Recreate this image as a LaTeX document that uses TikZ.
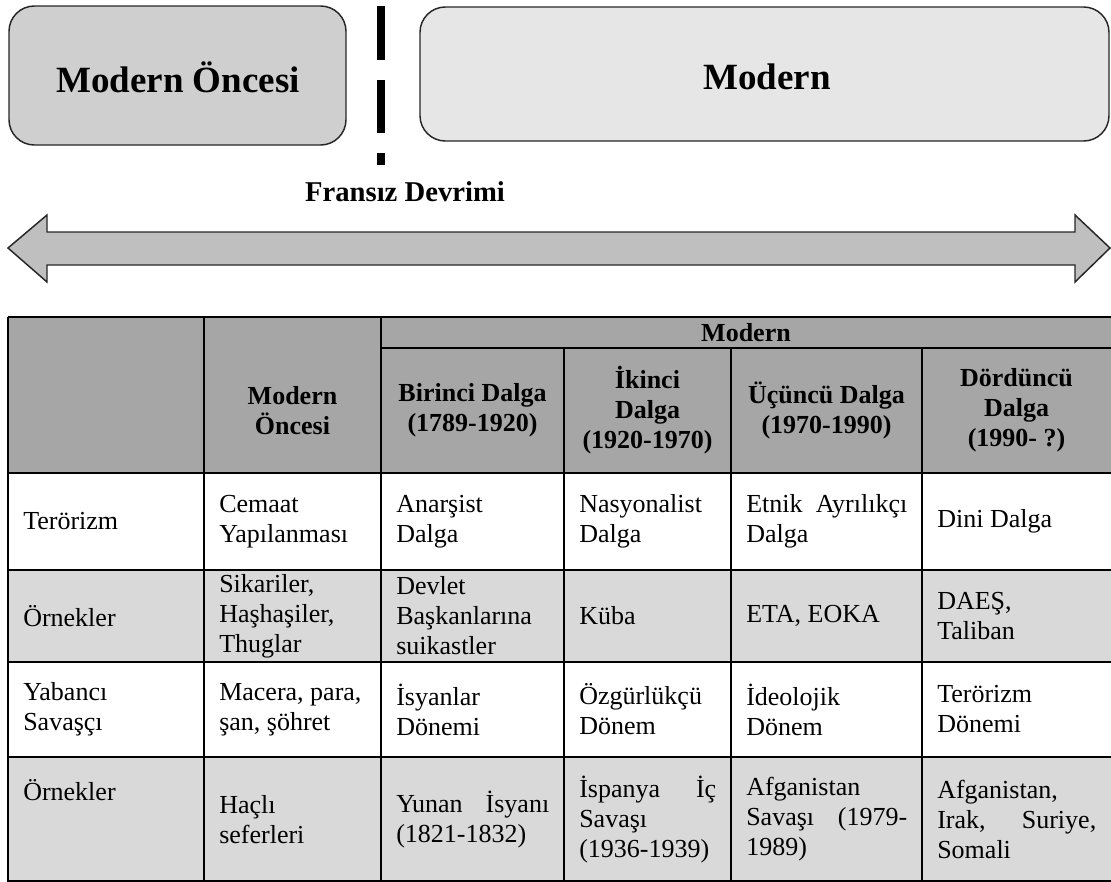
\documentclass[tikz,border=0pt]{standalone}
\usepackage{fontspec}
\setmainfont{Liberation Serif}
\usetikzlibrary{positioning,calc}
\definecolor{oncesigray}{HTML}{D0CFD0}
\definecolor{moderngray}{HTML}{E6E6E6}
\definecolor{arrowgray}{HTML}{BFBFBF}
\definecolor{headgray}{HTML}{A6A6A6}
\definecolor{rowgray}{HTML}{D9D9D9}
\tikzset{x=0.75pt, y=-0.75pt, % one unit = one pixel of the reference
        era/.style={ % the two period boxes
            draw=black!85, line width=1.1pt, rounded corners=19pt},
        eratext/.style={font=\fontsize{27.75}{32}\selectfont\bfseries},
        tableline/.style={line width=1.5pt},
        headcell/.style={align=flush center, inner sep=0pt,
            font=\fontsize{19.5}{22.5}\selectfont\bfseries},
        bodycell/.style={anchor=west, align=flush left, inner sep=0pt,
            font=\fontsize{19.5}{22.5}\selectfont},
        colA/.style={bodycell, text width=124.5pt},
        colB/.style={bodycell, text width=110.25pt},
        colC/.style={bodycell, text width=114.75pt},
        colD/.style={bodycell, text width=102.75pt},
        colE/.style={bodycell, text width=120.75pt},
        colF/.style={bodycell, text width=119.25pt}
        }

\begin{document}
\begin{tikzpicture}
    \useasboundingbox (0,0) rectangle (1111,882);

    % periods
    \draw[era, fill=oncesigray] (9,6) rectangle (346,145);
    \draw[era, fill=moderngray] (420,7) rectangle (1109,141);
    \node[eratext] (oncesi) at (178,77) {Modern Öncesi};
    \node[eratext] (modern) at (767,77) {Modern};
    \draw[line width=6pt, dash pattern=on 40.5pt off 15pt on 39.75pt off 15pt on 9pt]
        (381,6) -- (381,165);
    \node[font=\fontsize{21.5}{25}\selectfont\bfseries] (devrim) at (405,192) {Fransız Devrimi};

    % time axis
    \draw[fill=arrowgray, draw=black!85, line width=1.1pt]
        (8,248) -- (47,215) -- (47,232) -- (1075,232) -- (1075,215) -- (1110,248)
        -- (1075,282) -- (1075,265) -- (47,265) -- (47,282) -- cycle;

    % table
    \fill[headgray] (8,317) rectangle (1111,473);
    \fill[rowgray] (8,570) rectangle (1111,662);
    \fill[rowgray] (8,757) rectangle (1111,882);
    \foreach \y in {317,473,570,662,757,881}
        \draw[tableline] (8,\y) -- (1111,\y);
    \draw[tableline] (381,348) -- (1111,348);
    \foreach \x in {8,204,381}
        \draw[tableline] (\x,317) -- (\x,882);
    \foreach \x in {564,731,922}
        \draw[tableline] (\x,348) -- (\x,882);

    % header
    \node[headcell] (hmodern) at (746,333) {Modern};
    \node[headcell, text width=132.75pt] (honcesi) at (292.5,410.5) {Modern\\Öncesi};
    \node[headcell, text width=137.25pt] (hbirinci) at (472.5,410.5) {Birinci Dalga\\(1789-1920)};
    \node[headcell, text width=125.25pt] (hikinci) at (647.5,410.5) {İkinci\\Dalga\\(1920-1970)};
    \node[headcell, text width=143.25pt] (hucuncu) at (826.5,410.5) {Üçüncü Dalga\\(1970-1990)};
    \node[headcell, text width=141.75pt] (hdorduncu) at (1016.5,410.5) {Dördüncü\\Dalga\\(1990- ?)};

    % terörizm
    \node[colA] (a1) at (23,521.5) {Terörizm};
    \node[colB] (b1) at (219,521.5) {Cemaat\\Yapılanması};
    \node[colC] (c1) at (396,521.5) {Anarşist\\Dalga};
    \node[colD] (d1) at (579,521.5) {Nasyonalist\\Dalga};
    \node[colE] (e1) at (746,521.5) {Etnik\hfill Ayrılıkçı\\Dalga};
    \node[colF] (f1) at (937,521.5) {Dini Dalga};

    % örnekler
    \node[colA] (a2) at (23,616) {Örnekler};
    \node[colB] (b2) at (219,616) {Sikariler,\\Haşhaşiler,\\Thuglar};
    \node[colC] (c2) at (396,616) {Devlet\\Başkanlarına\\suikastler};
    \node[colD] (d2) at (579,616) {Küba};
    \node[colE] (e2) at (746,616) {ETA, EOKA};
    \node[colF] (f2) at (937,616) {DAEŞ,\\Taliban};

    % yabancı savaşçı
    \node[colA] (a3) at (23,709.5) {Yabancı\\Savaşçı};
    \node[colB] (b3) at (219,709.5) {Macera, para,\\şan, şöhret};
    \node[colC] (c3) at (396,709.5) {İsyanlar\\Dönemi};
    \node[colD] (d3) at (579,709.5) {Özgürlükçü\\Dönem};
    \node[colE] (e3) at (746,709.5) {İdeolojik\\Dönem};
    \node[colF] (f3) at (937,709.5) {Terörizm\\Dönemi};

    % örnekler
    \node[colA] (a4) at (23,790) {Örnekler};
    \node[colB] (b4) at (219,819.5) {Haçlı\\seferleri};
    \node[colC] (c4) at (396,819.5) {Yunan\hfill İsyanı\\(1821-1832)};
    \node[colD] (d4) at (579,819.5) {İspanya\hfill İç\\Savaşı\\(1936-1939)};
    \node[colE] (e4) at (746,819.5) {Afganistan\\Savaşı\hfill (1979-\\1989)};
    \node[colF] (f4) at (937,819.5) {Afganistan,\\Irak,\hfill Suriye,\\Somali};
\end{tikzpicture}
\end{document}
